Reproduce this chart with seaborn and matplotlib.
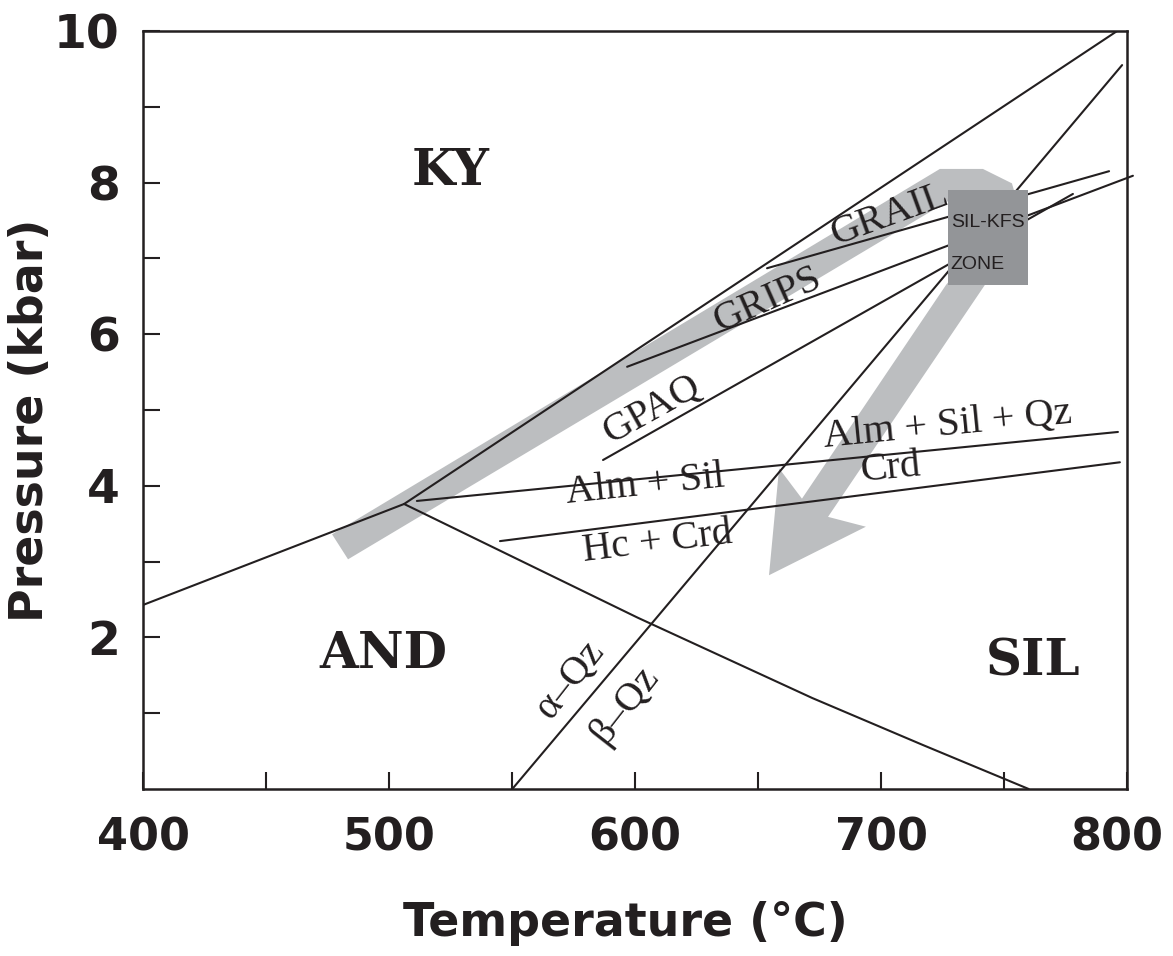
import seaborn as sns
import matplotlib.pyplot as plt
import matplotlib.transforms as mtrans
from matplotlib.patches import Rectangle

sns.set_theme(style="white")
plt.rcParams['font.family'] = ['DejaVu Sans']

ink = '#231f20'
band_col = '#bcbec0'
box_col = '#939598'

# reaction curves, temperature (C) and pressure (kbar)
ky_and_T = [400, 506]
ky_and_P = [2.43, 3.76]
ky_sil_T = [506, 796]
ky_sil_P = [3.76, 10.0]
and_sil_T = [506, 601, 672, 717, 760]
and_sil_P = [3.76, 2.26, 1.20, 0.58, 0.0]
qz_T = [550, 798]
qz_P = [0.0, 9.55]
grail_T = [653.6, 792.7]
grail_P = [6.87, 8.15]
grips_T = [596.7, 802.4]
grips_P = [5.57, 8.09]
gpaq_T = [586.9, 778.0]
gpaq_P = [4.34, 7.85]
alm_sil_T = [511.2, 796.3]
alm_sil_P = [3.80, 4.71]
hc_crd_T = [545.0, 797.1]
hc_crd_P = [3.27, 4.31]

# P-T path (grey arrow outline)
path_T = [476.7, 723.9, 741.4, 753.2, 754.0, 742.2, 678.4, 693.8, 654.4,
          658.5, 667.8, 726.4, 740.0, 728.0, 483.2]
path_P = [3.36, 8.18, 8.18, 7.99, 7.90, 6.65, 3.59, 3.46, 2.82,
          4.23, 3.83, 6.65, 7.2, 7.77, 3.03]

# sil-kfs zone box
zone_T = [727.2, 759.7]
zone_P = [6.65, 7.90]

fig = plt.figure(figsize=(11.73, 9.56), dpi=100)
ax = fig.add_axes([0.1223, 0.1747, 0.8385, 0.7929])

ax.fill(path_T, path_P, color=band_col, lw=0, zorder=1)

curves = [(ky_and_T, ky_and_P), (ky_sil_T, ky_sil_P), (and_sil_T, and_sil_P),
          (qz_T, qz_P), (grail_T, grail_P), (gpaq_T, gpaq_P),
          (alm_sil_T, alm_sil_P), (hc_crd_T, hc_crd_P)]
for t, p in curves:
    sns.lineplot(x=t, y=p, sort=False, estimator=None, color=ink, lw=1.5, ax=ax, zorder=2)
ln = sns.lineplot(x=grips_T, y=grips_P, sort=False, estimator=None, color=ink, lw=1.5, ax=ax, zorder=2)
ln.lines[-1].set_clip_on(False)

ax.add_patch(Rectangle((zone_T[0], zone_P[0]), zone_T[1] - zone_T[0], zone_P[1] - zone_P[0],
                       facecolor=box_col, edgecolor='none', zorder=3))
ax.text(728.3, 7.47, 'SIL-KFS', family=['Liberation Sans'], fontsize=14, color=ink,
        va='center', zorder=4)
ax.text(728.3, 6.92, 'ZONE', family=['Liberation Sans'], fontsize=14, color=ink,
        va='center', zorder=4)

# field names
big = dict(family=['DejaVu Serif'], fontweight='bold', fontsize=36, color=ink,
           ha='center', va='center', zorder=4)
ax.text(524.7, 8.14, 'KY', **big)
ax.text(497.5, 1.77, 'AND', **big)
ax.text(761.8, 1.68, 'SIL', **big)

# reaction labels
lab = dict(family=['Liberation Serif', 'DejaVu Serif'], fontsize=29, color=ink,
           ha='center', va='center', zorder=4, rotation_mode='anchor')
ax.text(703.7, 7.57, 'GRAIL', rotation=20, **lab)
ax.text(653.7, 6.45, 'GRIPS', rotation=24, **lab)
ax.text(607.0, 5.00, 'GPAQ', rotation=29, **lab)
ax.text(727.0, 4.80, 'Alm + Sil + Qz', rotation=5.6, **lab)
ax.text(703.7, 4.23, 'Crd', rotation=5.6, **lab)
ax.text(604.0, 4.01, 'Alm + Sil', rotation=6, **lab)
ax.text(609.0, 3.25, 'Hc + Crd', rotation=7, **lab)
ax.text(573.5, 1.44, 'α–Qz', rotation=52, **lab)
ax.text(595.9, 1.11, 'β–Qz', rotation=52, **lab)

ax.set_xlim(400, 800)
ax.set_ylim(0, 10)
ax.set_xticks([400, 500, 600, 700, 800])
ax.set_xticks([450, 550, 650, 750], minor=True)
ax.set_yticks([2, 4, 6, 8, 10])
ax.set_yticks([1, 3, 5, 7, 9], minor=True)
ax.tick_params(which='both', direction='in', length=12.5, width=1.5, color=ink,
               left=True, bottom=True, top=False, right=False)
ax.tick_params(axis='x', which='major', labelsize=32, labelcolor=ink, pad=20)
ax.tick_params(axis='y', which='major', labelsize=34, labelcolor=ink, pad=17)
for t in ax.get_xticklabels() + ax.get_yticklabels():
    t.set_fontweight('bold')
# last x label sits a little left of its tick, as in the source figure
last = ax.get_xticklabels()[-1]
last.set_transform(last.get_transform() + mtrans.ScaledTranslation(-10 / 100, 0, fig.dpi_scale_trans))
for s in ax.spines.values():
    s.set_visible(True)
    s.set_color(ink)
    s.set_linewidth(1.8)

ax.set_xlabel('Temperature (°C)', fontsize=33, fontweight='bold', color=ink, va='center')
ax.set_ylabel('Pressure (kbar)', fontsize=33, fontweight='bold', color=ink, va='center')
ax.xaxis.set_label_coords(0.49, -0.177)
ax.yaxis.set_label_coords(-0.115, 0.487)

fig.savefig('out.png', dpi=100, facecolor='white')
